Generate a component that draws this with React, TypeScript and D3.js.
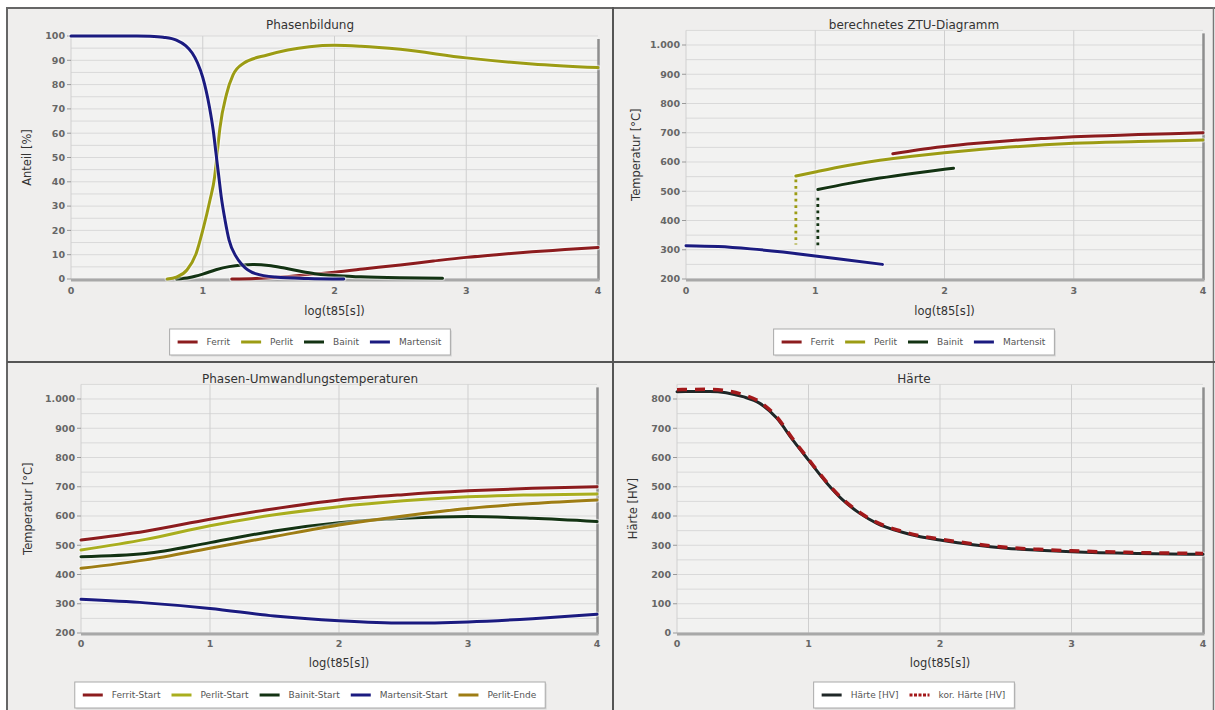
import React from 'react';
import * as d3 from 'd3';

type Pt = [number, number];

// ---------- Data: Phasenbildung ----------
const pbFerrit: Pt[] = [[1.22,0],[1.4,0.2],[1.6,0.8],[1.8,1.8],[2.0,2.8],[2.25,4.3],[2.5,5.8],[2.75,7.4],[3.0,8.9],[3.25,10.1],[3.5,11.2],[3.75,12.1],[4.0,13]];
const pbPerlit: Pt[] = [[0.73,0],[0.8,0.8],[0.88,3.7],[0.95,10.5],[1.0,20],[1.055,32.5],[1.09,42],[1.11,52],[1.13,62],[1.18,76],[1.23,84],[1.31,88.8],[1.49,92.2],[1.81,95.6],[2.0,96.2],[2.2,95.8],[2.5,94.5],[3.0,91],[3.5,88.5],[4.0,87]];
const pbBainit: Pt[] = [[0.8,0],[0.9,0.6],[1.0,2.0],[1.1,3.8],[1.2,5.1],[1.3,5.8],[1.38,6],[1.5,5.6],[1.62,4.5],[1.75,3.1],[1.85,2.2],[2.0,1.4],[2.2,0.9],[2.5,0.5],[2.82,0.3]];
const pbMartensit: Pt[] = [[0,100],[0.5,100],[0.6,99.9],[0.7,99.5],[0.8,98.3],[0.87,96],[0.92,93],[0.96,89],[1.0,83],[1.05,71],[1.08,61],[1.1,52],[1.12,43],[1.14,34],[1.17,24],[1.2,16],[1.25,9.5],[1.3,5.8],[1.4,2.2],[1.55,0.8],[1.8,0.2],[2.07,0]];

// ---------- Data: berechnetes ZTU-Diagramm ----------
const ztuFerrit: Pt[] = [[1.6,628],[1.8,642],[2.0,653],[2.25,664],[2.5,673],[2.75,680],[3.0,686],[3.25,690],[3.5,694],[3.75,697],[4.0,700]];
const ztuPerlit: Pt[] = [[0.85,552],[1.0,566],[1.25,588],[1.5,606],[1.75,620],[2.0,632],[2.25,642],[2.5,651],[2.75,658],[3.0,664],[3.5,670],[4.0,675]];
const ztuBainit: Pt[] = [[1.02,506],[1.25,526],[1.5,545],[1.75,561],[2.0,575],[2.07,579]];
const ztuMartensit: Pt[] = [[0,314],[0.25,311],[0.5,303],[0.75,292],[1.0,279],[1.25,265],[1.52,250]];
const ztuPerlitDrop: Pt[] = [[0.85,540],[0.85,318]];
const ztuBainitDrop: Pt[] = [[1.02,478],[1.02,308]];

// ---------- Data: Phasen-Umwandlungstemperaturen ----------
const puX = [0, 0.5, 1, 1.5, 2, 2.5, 3, 3.5, 4];
const puFerritStart = [518, 548, 589, 625, 655, 673, 686, 695, 700];
const puPerlitStart = [484, 520, 567, 604, 632, 652, 666, 672, 675];
const puBainitStart = [461, 472, 509, 549, 577, 592, 598, 592, 581];
const puMartensitStart = [315, 303, 284, 258, 242, 234, 238, 249, 264];
const puPerlitEnde = [421, 450, 490, 530, 569, 600, 626, 643, 655];

// ---------- Data: Härte ----------
const hX = [0, 0.25, 0.5, 0.63, 0.76, 0.88, 1.0, 1.14, 1.26, 1.39, 1.52, 1.7, 1.85, 2.0, 2.25, 2.5, 2.75, 3.0, 3.5, 4.0];
const hHaerte = [825, 826, 808, 785, 734, 660, 591, 512, 455, 409, 375, 346, 329, 318, 302, 290, 283, 278, 272, 269];
const hKorHaerte = [832, 833, 815, 790, 738, 664, 594, 515, 458, 412, 378, 349, 332, 321, 305, 293, 286, 281, 275, 272];

const xTicks = [0, 1, 2, 3, 4];
const pctTicks = [0, 10, 20, 30, 40, 50, 60, 70, 80, 90, 100];
const tempTicks = [200, 300, 400, 500, 600, 700, 800, 900, 1000];
const hvTicks = [0, 100, 200, 300, 400, 500, 600, 700, 800];

const C = {
  ferrit: '#8c1c1e',
  perlit: '#9c9c14',
  perlitStart: '#a9ae1e',
  bainit: '#133313',
  martensit: '#1b1b80',
  perlitEnde: '#9e7d14',
  haerte: '#1f2727',
  kor: '#a3191b',
};

const zip = (xs: number[], ys: number[]): Pt[] => xs.map((x, i) => [x, ys[i]]);

const deLocale = d3.formatLocale({ decimal: ',', thousands: '.', grouping: [3], currency: ['', '€'] });
const fmtDe = deLocale.format(',d');

const FONT = "'DejaVu Sans', Verdana, sans-serif";

let ctx: CanvasRenderingContext2D | null = null;
function measure(text: string, font: string) {
  if (!ctx) ctx = document.createElement('canvas').getContext('2d');
  if (!ctx) return text.length * 5;
  ctx.font = font;
  return ctx.measureText(text).width;
}

type Series = { data: Pt[]; color: string; width?: number; dash?: string; halo?: boolean; cap?: string };
type LegendItem = { label: string; color: string; dash?: string };

type PanelProps = {
  px: number; py: number; pw: number; ph: number;
  x0: number; x1: number; yBase: number; yRef: number; refVal: number; baseVal: number; topVal: number;
  ticks: number[]; minorStep: number; fmt: (v: number) => string;
  title: string; titleY: number; yLabel: string; yLabelX: number; xLabelY: number; xTickY: number;
  series: Series[]; legend: LegendItem[]; legendY: number; legendH: number;
};

function Panel(p: PanelProps) {
  const xs = d3.scaleLinear().domain([0, 4]).range([p.x0, p.x1]);
  const ys = d3.scaleLinear().domain([p.baseVal, p.refVal]).range([p.yBase, p.yRef]);
  const yTop = ys(p.topVal);
  const minor = d3.range(p.baseVal, p.topVal + 0.001, p.minorStep);
  const line = d3.line<Pt>().x(d => xs(d[0])).y(d => ys(d[1])).curve(d3.curveMonotoneX);
  const cx = p.px + p.pw / 2;
  const plotCx = (p.x0 + p.x1) / 2;
  const plotCy = (yTop + p.yBase) / 2;

  // legend layout
  const lFont = `9px ${FONT}`;
  const symW = 20, gap1 = 9, gap2 = 11, padL = 8, padR = 9;
  const widths = p.legend.map(l => measure(l.label, lFont));
  const total = padL + widths.reduce((a, w) => a + symW + gap1 + w + gap2, 0) - gap2 + padR;
  const lx = cx - total / 2;
  let cur = lx + padL;
  const items = p.legend.map((l, i) => {
    const x = cur;
    cur += symW + gap1 + widths[i] + gap2;
    return { ...l, x };
  });
  const ly = p.legendY + p.legendH / 2;

  return (
    <g>
      <rect x={p.px} y={p.py} width={p.pw} height={p.ph} fill="#efeeed" />
      <rect x={p.x0} y={yTop} width={p.x1 - p.x0} height={p.yBase - yTop} fill="#f2f2f1" />
      {minor.map(v => (
        <line key={'m' + v} x1={p.x0} x2={p.x1} y1={ys(v)} y2={ys(v)} stroke="#d9d9d9" strokeWidth={1} />
      ))}
      {xTicks.slice(1, -1).map(v => (
        <line key={'v' + v} x1={xs(v)} x2={xs(v)} y1={yTop} y2={p.yBase} stroke="#cfcfcf" strokeWidth={1} />
      ))}
      <line x1={p.x0} x2={p.x0} y1={yTop} y2={p.yBase} stroke="#d0d0d0" strokeWidth={1} />
      <line x1={p.x1 + 0.5} x2={p.x1 + 0.5} y1={yTop + 3} y2={p.yBase + 1} stroke="#8e8e8e" strokeWidth={2.5} />
      <line x1={p.x0} x2={p.x1 + 1.5} y1={p.yBase + 1} y2={p.yBase + 1} stroke="#a8a8a8" strokeWidth={3} />
      {p.ticks.map(v => (
        <g key={'t' + v}>
          <line x1={p.x0 - 4} x2={p.x0} y1={ys(v)} y2={ys(v)} stroke="#999" strokeWidth={1} />
          <text x={p.x0 - 6} y={ys(v)} dy="0.35em" textAnchor="end" fontFamily={FONT} fontWeight="bold" fontSize={9.5} fill="#666">{p.fmt(v)}</text>
        </g>
      ))}
      {xTicks.map(v => (
        <text key={'x' + v} x={xs(v)} y={p.xTickY} textAnchor="middle" fontFamily={FONT} fontWeight="bold" fontSize={9.5} fill="#666">{v}</text>
      ))}
      {p.series.map((s, i) => (
        <g key={'s' + i}>
          {s.halo !== false && (
            <path d={line(s.data) || ''} fill="none" stroke="#ffffff" strokeOpacity={0.45} strokeWidth={(s.width || 3) + 2.5} strokeLinecap="round" />
          )}
          <path d={line(s.data) || ''} fill="none" stroke={s.color} strokeWidth={s.width || 3} strokeDasharray={s.dash} strokeLinecap={(s.cap as any) || 'round'} />
        </g>
      ))}
      <text x={cx} y={p.titleY} textAnchor="middle" fontFamily={FONT} fontSize={12} fill="#333">{p.title}</text>
      <text transform={`translate(${p.yLabelX},${plotCy}) rotate(-90)`} textAnchor="middle" dominantBaseline="central" fontFamily={FONT} fontSize={11.5} fill="#333">{p.yLabel}</text>
      <text x={plotCx} y={p.xLabelY} textAnchor="middle" fontFamily={FONT} fontSize={11.5} fill="#333">log(t85[s])</text>
      <rect x={lx + 1.5} y={p.legendY + 1.5} width={total} height={p.legendH} fill="#d8d8d8" />
      <rect x={lx} y={p.legendY} width={total} height={p.legendH} fill="#ffffff" stroke="#a9a9a9" strokeWidth={1} />
      {items.map((it, i) => (
        <g key={'l' + i}>
          <line x1={it.x} x2={it.x + symW} y1={ly} y2={ly} stroke={it.color} strokeWidth={3} strokeDasharray={it.dash} />
          <text x={it.x + symW + gap1} y={ly} dy="0.35em" fontFamily={FONT} fontSize={9} fill="#555">{it.label}</text>
        </g>
      ))}
    </g>
  );
}

export default function App() {
  const fmtPlain = (v: number) => String(v);
  return (
    <svg width={1215} height={710} style={{ position: 'absolute', left: 0, top: 0, background: '#fff' }}>
      <Panel
        px={8} py={9} pw={604} ph={352}
        x0={71} x1={598} yBase={279} yRef={36} refVal={100} baseVal={0} topVal={100}
        ticks={pctTicks} minorStep={5} fmt={fmtPlain}
        title="Phasenbildung" titleY={29} yLabel="Anteil [%]" yLabelX={27} xLabelY={315} xTickY={294}
        series={[
          { data: pbFerrit, color: C.ferrit },
          { data: pbBainit, color: C.bainit },
          { data: pbPerlit, color: C.perlit },
          { data: pbMartensit, color: C.martensit },
        ]}
        legend={[
          { label: 'Ferrit', color: C.ferrit },
          { label: 'Perlit', color: C.perlit },
          { label: 'Bainit', color: C.bainit },
          { label: 'Martensit', color: C.martensit },
        ]}
        legendY={329} legendH={26}
      />
      <Panel
        px={614} py={9} pw={600} ph={352}
        x0={686} x1={1203} yBase={279} yRef={45} refVal={1000} baseVal={200} topVal={1050}
        ticks={tempTicks} minorStep={50} fmt={fmtDe}
        title="berechnetes ZTU-Diagramm" titleY={29} yLabel="Temperatur [°C]" yLabelX={636} xLabelY={315} xTickY={294}
        series={[
          { data: ztuPerlitDrop, color: C.perlit, width: 2.8, dash: '2.8 3.6', halo: false, cap: 'butt' },
          { data: ztuBainitDrop, color: C.bainit, width: 2.8, dash: '2.8 3.6', halo: false, cap: 'butt' },
          { data: ztuMartensit, color: C.martensit },
          { data: ztuBainit, color: C.bainit },
          { data: ztuPerlit, color: C.perlit },
          { data: ztuFerrit, color: C.ferrit },
        ]}
        legend={[
          { label: 'Ferrit', color: C.ferrit },
          { label: 'Perlit', color: C.perlit },
          { label: 'Bainit', color: C.bainit },
          { label: 'Martensit', color: C.martensit },
        ]}
        legendY={329} legendH={26}
      />
      <Panel
        px={8} py={363} pw={604} ph={347}
        x0={81} x1={597} yBase={633} yRef={399} refVal={1000} baseVal={200} topVal={1050}
        ticks={tempTicks} minorStep={50} fmt={fmtDe}
        title="Phasen-Umwandlungstemperaturen" titleY={383} yLabel="Temperatur [°C]" yLabelX={28} xLabelY={667} xTickY={647}
        series={[
          { data: zip(puX, puMartensitStart), color: C.martensit },
          { data: zip(puX, puBainitStart), color: C.bainit },
          { data: zip(puX, puPerlitEnde), color: C.perlitEnde },
          { data: zip(puX, puPerlitStart), color: C.perlitStart },
          { data: zip(puX, puFerritStart), color: C.ferrit },
        ]}
        legend={[
          { label: 'Ferrit-Start', color: C.ferrit },
          { label: 'Perlit-Start', color: C.perlitStart },
          { label: 'Bainit-Start', color: C.bainit },
          { label: 'Martensit-Start', color: C.martensit },
          { label: 'Perlit-Ende', color: C.perlitEnde },
        ]}
        legendY={682} legendH={26}
      />
      <Panel
        px={614} py={363} pw={600} ph={347}
        x0={677} x1={1203} yBase={633} yRef={399} refVal={800} baseVal={0} topVal={850}
        ticks={hvTicks} minorStep={50} fmt={fmtPlain}
        title="Härte" titleY={383} yLabel="Härte [HV]" yLabelX={633} xLabelY={667} xTickY={647}
        series={[
          { data: zip(hX, hHaerte), color: C.haerte, width: 3 },
          { data: zip(hX, hKorHaerte), color: C.kor, width: 3.5, dash: '10 8', halo: false, cap: 'butt' },
        ]}
        legend={[
          { label: 'Härte [HV]', color: C.haerte },
          { label: 'kor. Härte [HV]', color: C.kor, dash: '3 1.5' },
        ]}
        legendY={682} legendH={26}
      />
      <line x1={7} x2={1215} y1={8} y2={8} stroke="#666" strokeWidth={2} />
      <line x1={7} x2={7} y1={7} y2={710} stroke="#666" strokeWidth={2} />
      <line x1={613} x2={613} y1={7} y2={710} stroke="#555" strokeWidth={2} />
      <line x1={1213.5} x2={1213.5} y1={7} y2={710} stroke="#777" strokeWidth={1.5} />
      <line x1={7} x2={1215} y1={362} y2={362} stroke="#555" strokeWidth={2} />
    </svg>
  );
}
